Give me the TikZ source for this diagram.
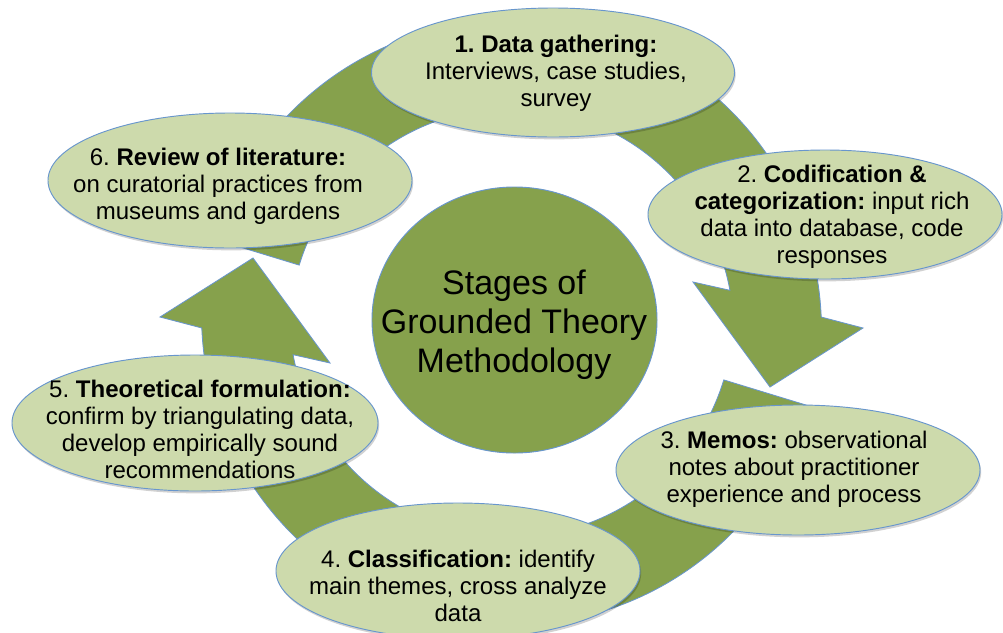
\documentclass[tikz,border=0pt]{standalone}
\usepackage{fontspec}
\setmainfont{Liberation Sans}
\usetikzlibrary{shapes.geometric,shadows}
\definecolor{ringgreen}{RGB}{134,161,76}
\definecolor{paleleaf}{RGB}{205,218,172}
\definecolor{edgeblue}{RGB}{104,150,205}
\frenchspacing
\begin{document}
\begin{tikzpicture}[x=0.03cm,y=-0.03cm,
  ringarrow/.style={fill=ringgreen,draw=edgeblue,line width=0.7pt,line join=miter},
  stage/.style={ellipse,fill=paleleaf,draw=edgeblue,line width=0.8pt,inner sep=0pt,
     drop shadow={shadow xshift=1pt,shadow yshift=-2pt,opacity=0.18,fill=black}},
  stagetext/.style={align=center,font=\fontsize{20.5}{23.05}\selectfont,inner sep=0pt},
  hub/.style={ellipse,fill=ringgreen,draw=edgeblue,line width=0.8pt,inner sep=0pt},
  hubtext/.style={align=center,font=\fontsize{29}{33.2}\selectfont,inner sep=0pt}]

\fill[white] (0,0) rectangle (1003,632);
\useasboundingbox (0,0) rectangle (1003,632);

% the ring: two curved arrows, the second one is the first turned by half a turn
\foreach \turn in {0,180}{
  \begin{scope}[rotate around={\turn:(511.5,322.5)}]
    \draw[ringarrow]
      ({511.5+222*cos(17)},{315+222*sin(17)})
        arc[start angle=17,end angle=169.7,radius=222]
      -- (330,363) -- (253,258) -- (160,317)
      -- ({511.5+310*cos(177.6)},{315+310*sin(177.6)})
        arc[start angle=177.6,end angle=17,radius=310]
      -- cycle;
  \end{scope}
}

% the six stages
\node[stage,minimum width=10.89cm,minimum height=3.87cm] (e1) at (553,72.5) {};
\node[stage,minimum width=10.62cm,minimum height=3.87cm] (e2) at (825,214.5) {};
\node[stage,minimum width=10.92cm,minimum height=3.90cm] (e3) at (798,470) {};
\node[stage,minimum width=10.92cm,minimum height=4.08cm] (e4) at (458,571) {};
\node[stage,minimum width=10.98cm,minimum height=4.08cm] (e5) at (195,423) {};
\node[stage,minimum width=10.92cm,minimum height=4.05cm] (e6) at (230,180.5) {};

\node[stagetext] (t1) at (556,73.25)
  {\textbf{1. Data gathering:}\\Interviews, case studies,\\survey};
\node[stagetext] (t2) at (832,216.75)
  {2. \textbf{Codification \&}\\\textbf{categorization:} input rich\\data into database, code\\responses};
\node[stagetext] (t3) at (794,469.25)
  {3. \textbf{Memos:} observational\\notes about practitioner\\experience and process};
\node[stagetext] (t4) at (458,586.25)
  {4. \textbf{Classification:} identify\\main themes, cross analyze\\data};
\node[stagetext] (t5) at (200,429.75)
  {5. \textbf{Theoretical formulation:}\\confirm by triangulating data,\\develop empirically sound\\recommendations};
\node[stagetext] (t6) at (218,186.75)
  {6. \textbf{Review of literature:}\\on curatorial practices from\\museums and gardens};

% the hub
\node[hub,minimum width=8.55cm,minimum height=7.98cm] (hub) at (514.5,320) {};
\node[hubtext] (hubt) at (514,325) {Stages of\\Grounded Theory\\Methodology};
\end{tikzpicture}
\end{document}
